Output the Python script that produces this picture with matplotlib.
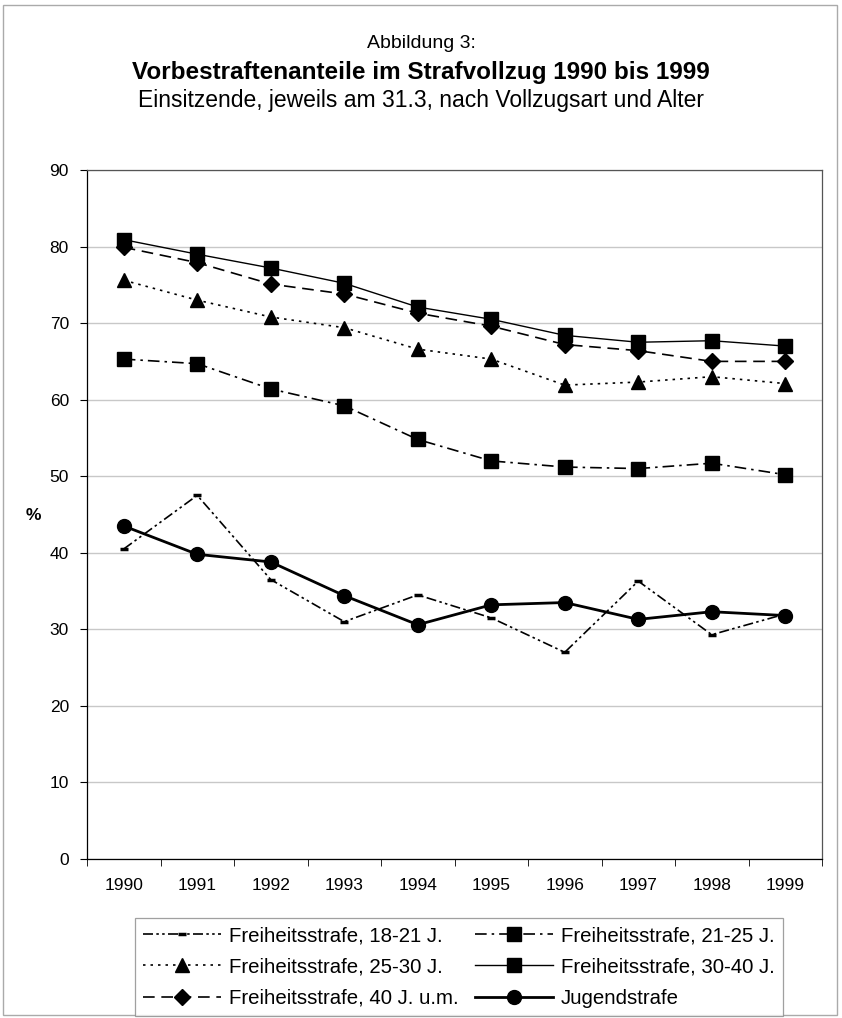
import matplotlib
matplotlib.use("Agg")
import matplotlib.pyplot as plt
from matplotlib.patches import Rectangle

plt.rcParams['font.family'] = ['Liberation Sans', 'DejaVu Sans']

years = ['1990', '1991', '1992', '1993', '1994', '1995', '1996', '1997', '1998', '1999']
fs_18_21 = [40.5, 47.5, 36.5, 31.0, 34.5, 31.5, 27.0, 36.3, 29.3, 32.0]
fs_21_25 = [65.3, 64.7, 61.4, 59.2, 54.8, 52.0, 51.2, 51.0, 51.7, 50.2]
fs_25_30 = [75.6, 73.0, 70.8, 69.4, 66.6, 65.3, 61.9, 62.3, 63.0, 62.1]
fs_30_40 = [80.9, 79.0, 77.2, 75.2, 72.1, 70.5, 68.4, 67.5, 67.7, 67.0]
fs_40_um = [79.9, 77.9, 75.1, 73.8, 71.3, 69.6, 67.2, 66.4, 65.0, 65.0]
jugend = [43.5, 39.8, 38.8, 34.4, 30.6, 33.2, 33.5, 31.3, 32.3, 31.8]
labels = ['Freiheitsstrafe, 18-21 J.', 'Freiheitsstrafe, 21-25 J.',
          'Freiheitsstrafe, 25-30 J.', 'Freiheitsstrafe, 30-40 J.',
          'Freiheitsstrafe, 40 J. u.m.', 'Jugendstrafe']
yticks = [0, 10, 20, 30, 40, 50, 60, 70, 80, 90]

W, H = 842, 1018
fig = plt.figure(figsize=(W / 100, H / 100), dpi=100)
ax = fig.add_axes([87 / W, 1 - 859 / H, (822 - 87) / W, (859 - 170) / H])

x = list(range(len(years)))
h = []
h += ax.plot(x, fs_18_21, color='black', lw=1.2, linestyle=(0, (6, 2, 1.5, 2, 1.5, 2)),
             marker='_', markersize=6, markeredgewidth=2.5, label=labels[0])
h += ax.plot(x, fs_21_25, color='black', lw=1.2, linestyle=(0, (7, 3, 1.5, 3)),
             marker='s', markersize=10, label=labels[1])
h += ax.plot(x, fs_25_30, color='black', lw=1.2, linestyle=(0, (1.5, 3)),
             marker='^', markersize=10, label=labels[2])
h += ax.plot(x, fs_30_40, color='black', lw=1.0, linestyle='-',
             marker='s', markersize=10, label=labels[3])
h += ax.plot(x, fs_40_um, color='black', lw=1.2, linestyle=(0, (7, 4)),
             marker='D', markersize=8, label=labels[4])
h += ax.plot(x, jugend, color='black', lw=2.0, linestyle='-',
             marker='o', markersize=10, label=labels[5])

ax.set_xlim(-0.45, 9.45)
ax.set_ylim(0, 90)
ax.set_yticks(yticks)
ax.set_xticks(x)
ax.set_xticklabels(years)
ax.tick_params(axis='both', labelsize=12.5, length=5, direction='out', width=0.8)
ax.tick_params(axis='y', pad=8)
ax.tick_params(axis='x', length=0, pad=14)
ax.set_xticks([i + 0.5 for i in range(-1, 10)], minor=True)
ax.tick_params(axis='x', which='minor', length=5, direction='out')
ax.yaxis.grid(True, color='#c8c8c8', lw=1.0)
ax.set_axisbelow(True)
for s in ax.spines.values():
    s.set_color('#555555')
    s.set_linewidth(0.9)
ax.spines['left'].set_color('black')
ax.spines['bottom'].set_color('black')

fig.text(33 / W, 1 - 516 / H, '%', fontsize=12.5, fontweight='bold', ha='center', va='center')

fig.text(0.5, 1 - 43 / H, 'Abbildung 3:', fontsize=14, ha='center', va='center')
fig.text(0.5, 1 - 73 / H, 'Vorbestraftenanteile im Strafvollzug 1990 bis 1999',
         fontsize=17.5, fontweight='bold', ha='center', va='center')
fig.text(0.5, 1 - 101 / H, 'Einsitzende, jeweils am 31.3, nach Vollzugsart und Alter',
         fontsize=16.5, ha='center', va='center')

order = [0, 2, 4, 1, 3, 5]
leg = fig.legend([h[i] for i in order], [labels[i] for i in order],
                 loc='center', bbox_to_anchor=(459 / W, 1 - 967 / H), ncol=2,
                 fontsize=14.7, frameon=True, fancybox=False, edgecolor='#888888',
                 handlelength=3.8, columnspacing=0.8, labelspacing=0.6,
                 handletextpad=0.4, borderpad=0.4)
leg.get_frame().set_linewidth(0.9)

fig.patches.append(Rectangle((3 / W, 3 / H), 1 - 8 / W, 1 - 8 / H, transform=fig.transFigure,
                             fill=False, edgecolor='#aaaaaa', lw=1.0))

fig.savefig('out.png', dpi=100)
